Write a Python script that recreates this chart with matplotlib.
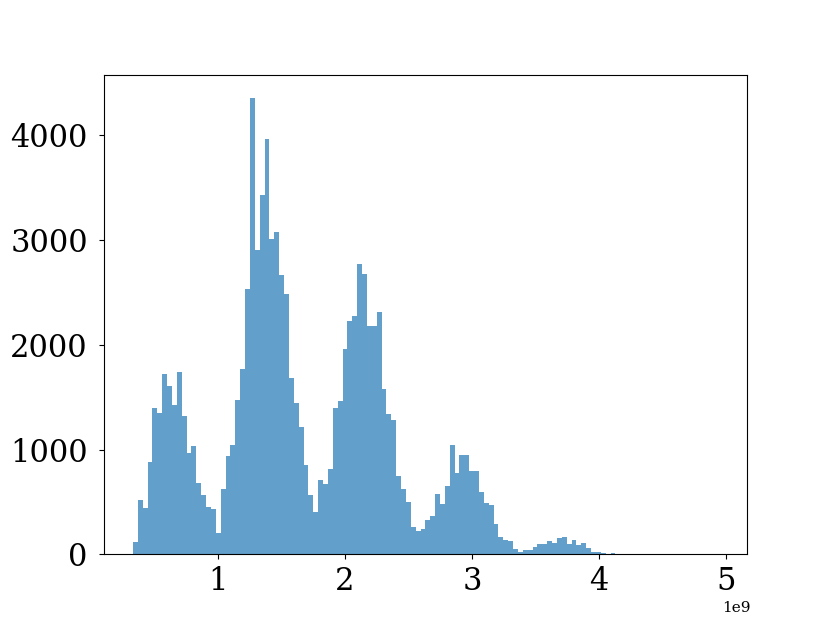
import numpy as np
import matplotlib
matplotlib.use("Agg")
import matplotlib.pyplot as plt

plt.rcParams['font.family'] = ['DejaVu Serif']

# Histogram: 120 equal-width bins between data min and max (values in units of 1e9)
data_min = 0.330e9
data_max = 4.935e9
counts = [
    118, 516, 443, 885, 1398, 1344, 1720, 1608, 1424, 1739,
    1318, 968, 1038, 685, 570, 455, 433, 204, 627, 943,
    1045, 1471, 1767, 2532, 4354, 2898, 3427, 3959, 3003, 3073,
    2662, 2481, 1685, 1446, 1213, 850, 570, 404, 707, 675,
    812, 1398, 1462, 1959, 2223, 2271, 2764, 2669, 2178, 2178,
    2312, 1580, 1334, 1283, 745, 624, 503, 264, 223, 245,
    325, 363, 576, 484, 650, 1045, 780, 946, 946, 796,
    793, 596, 490, 471, 287, 162, 137, 127, 52, 27,
    38, 43, 67, 103, 99, 127, 108, 159, 170, 99,
    134, 86, 108, 60, 22, 22, 13, 6, 10, 3,
    2, 0, 1, 0, 0, 1, 0, 0, 3, 1,
    3, 0, 0, 1, 0, 0, 0, 0, 0, 1,
]

n_bins = len(counts)
edges = np.linspace(data_min, data_max, n_bins + 1)
width = edges[1] - edges[0]

fig, ax = plt.subplots(figsize=(8.3, 6.23), dpi=100)
ax.bar(edges[:-1], counts, width=width, align='edge', color='#1f77b4',
       alpha=0.7, linewidth=0)
ax.set_xlim(data_min - 0.05 * (data_max - data_min), data_max + 0.05 * (data_max - data_min))
ax.set_ylim(0, max(counts) * 1.05)
ax.tick_params(labelsize=22)
ax.tick_params(axis='y', pad=8)
ax.tick_params(axis='x', pad=5)
off = ax.xaxis.get_offset_text()
off.set_fontsize(11)
off.set_x(1.005)
fig.savefig("out.png", dpi=100)
